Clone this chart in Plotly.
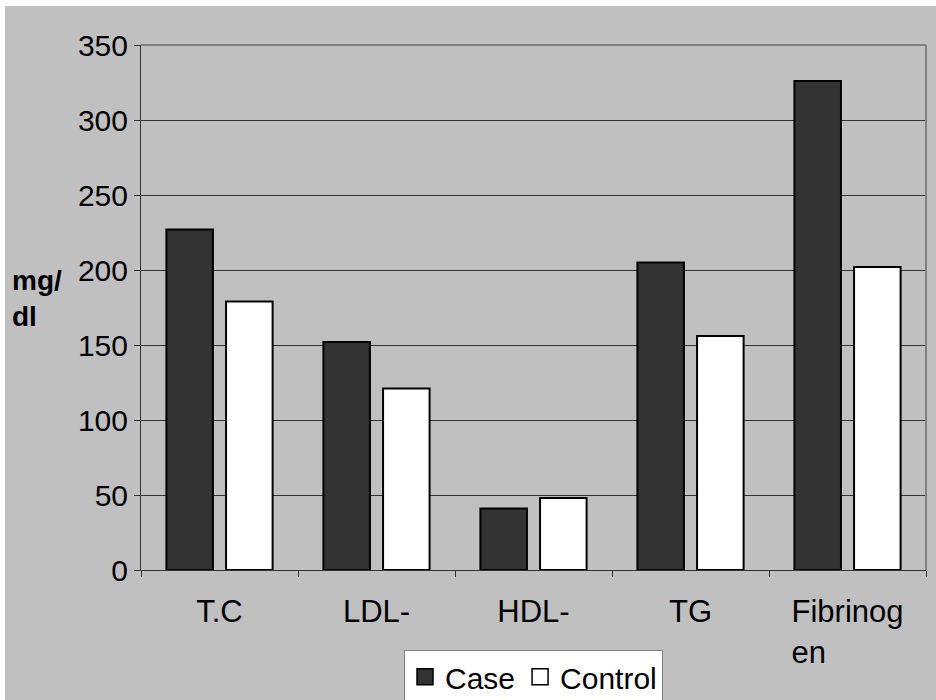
import plotly.graph_objects as go

# Lipid profile and fibrinogen, cases vs controls (mg/dl)
categories = ["T.C", "LDL-", "HDL-", "TG", "Fibrinog<br>en" + "\u00a0" * 9]
case_values = [227, 152, 41, 205, 326]
control_values = [179, 121, 48, 156, 202]
y_ticks = [0, 50, 100, 150, 200, 250, 300, 350]

FONT = "Liberation Sans, Arial, sans-serif"
BG = "#c0c0c0"
CASE_FILL = "#333333"
CONTROL_FILL = "#ffffff"

fig = go.Figure()
fig.add_trace(go.Bar(
    x=categories, y=case_values, name="Case", showlegend=False,
    marker=dict(color=CASE_FILL, line=dict(color="#000000", width=2)),
))
fig.add_trace(go.Bar(
    x=categories, y=control_values, name="Control", showlegend=False,
    marker=dict(color=CONTROL_FILL, line=dict(color="#000000", width=2)),
))
# legend entries with larger square swatches
for name, fill in [("Case", CASE_FILL), ("Control", CONTROL_FILL)]:
    fig.add_trace(go.Scatter(
        x=[None], y=[None], name=name, mode="markers",
        marker=dict(symbol="square", size=16, color=fill,
                    line=dict(color="#000000", width=1.5)),
    ))

fig.update_layout(
    width=936, height=700,
    margin=dict(l=141, r=10, t=45, b=130, autoexpand=False),
    paper_bgcolor=BG, plot_bgcolor=BG,
    font=dict(family=FONT, size=31, color="#000000"),
    barmode="group", bargap=0.24, bargroupgap=0.22,
    showlegend=True,
    legend=dict(
        orientation="h", x=0.5, xanchor="center", y=-0.152, yanchor="top",
        bgcolor="#ffffff", bordercolor="#808080", borderwidth=1,
        font=dict(size=30), itemwidth=30, tracegroupgap=0,
    ),
    xaxis=dict(
        showgrid=False, showline=True, linecolor="#333333", linewidth=1,
        ticks="outside", tickson="boundaries", ticklen=6, tickcolor="#333333",
        tickfont=dict(size=31), zeroline=False, ticklabelstandoff=14,
    ),
    yaxis=dict(
        range=[0, 350], tickvals=y_ticks, showgrid=True, gridcolor="#333333",
        gridwidth=1, showline=True, linecolor="#333333", linewidth=1,
        ticks="outside", ticklen=6, tickcolor="#333333",
        tickfont=dict(size=30), zeroline=False,
    ),
    shapes=[
        # grey frame on the top and right of the plot area
        dict(type="line", xref="paper", yref="paper", x0=0, x1=1, y0=1, y1=1,
             line=dict(color="#808080", width=2)),
        dict(type="line", xref="paper", yref="paper", x0=1, x1=1, y0=0, y1=1,
             line=dict(color="#808080", width=2)),
        # thin white border along the top and left of the chart
        dict(type="rect", xref="paper", yref="paper", x0=-0.2, x1=1.02,
             y0=1.0743, y1=1.1, fillcolor="#ffffff", line=dict(width=0)),
        dict(type="rect", xref="paper", yref="paper", x0=-0.2, x1=-0.1732,
             y0=-0.3, y1=1.1, fillcolor="#ffffff", line=dict(width=0)),
    ],
    annotations=[
        dict(text="<b>mg/<br>dl</b>", xref="paper", yref="paper",
             x=-0.167, y=0.518, xanchor="left", yanchor="middle",
             align="left", showarrow=False, font=dict(size=28)),
    ],
)

fig.write_html("out.html")
